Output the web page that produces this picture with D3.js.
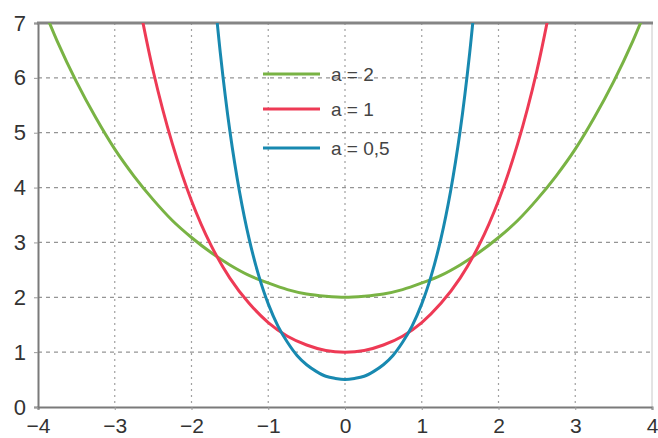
<!DOCTYPE html>
<html>
<head>
<meta charset="utf-8">
<script src="https://cdn.jsdelivr.net/npm/d3@7"></script>
<style>
  body { margin: 0; background: #fff; }
  svg { display: block; font-family: "Liberation Sans", Arial, sans-serif; }
</style>
</head>
<body>
<svg width="658" height="438"></svg>
<script>
// valeurs
const xTicks = [-4, -3, -2, -1, 0, 1, 2, 3, 4];
const yTicks = [0, 1, 2, 3, 4, 5, 6, 7];
const xTickLabels = ["−4", "−3", "−2", "−1", "0", "1", "2", "3", "4"];

const xA2 = [-4, -3.75, -3.5, -3.25, -3, -2.75, -2.5, -2.25, -2, -1.75, -1.5, -1.25, -1, -0.75, -0.5, -0.25, 0,
             0.25, 0.5, 0.75, 1, 1.25, 1.5, 1.75, 2, 2.25, 2.5, 2.75, 3, 3.25, 3.5, 3.75, 4];
const yA2 = [7.52, 6.67, 5.93, 5.28, 4.70, 4.21, 3.78, 3.40, 3.09, 2.82, 2.59, 2.40, 2.26, 2.14, 2.06, 2.02, 2.00,
             2.02, 2.06, 2.14, 2.26, 2.40, 2.59, 2.82, 3.09, 3.40, 3.78, 4.21, 4.70, 5.28, 5.93, 6.67, 7.52];

const xA1 = [-2.75, -2.5, -2.25, -2, -1.75, -1.5, -1.25, -1, -0.75, -0.5, -0.25, 0,
             0.25, 0.5, 0.75, 1, 1.25, 1.5, 1.75, 2, 2.25, 2.5, 2.75];
const yA1 = [7.85, 6.13, 4.80, 3.76, 2.96, 2.35, 1.89, 1.54, 1.29, 1.13, 1.03, 1.00,
             1.03, 1.13, 1.29, 1.54, 1.89, 2.35, 2.96, 3.76, 4.80, 6.13, 7.85];

const xA05 = [-1.75, -1.625, -1.5, -1.375, -1.25, -1.125, -1, -0.875, -0.75, -0.625, -0.5, -0.375, -0.25, -0.125, 0,
              0.125, 0.25, 0.375, 0.5, 0.625, 0.75, 0.875, 1, 1.125, 1.25, 1.375, 1.5, 1.625, 1.75];
const yA05 = [8.29, 6.46, 5.03, 3.93, 3.07, 2.40, 1.88, 1.48, 1.18, 0.94, 0.77, 0.65, 0.56, 0.52, 0.50,
              0.52, 0.56, 0.65, 0.77, 0.94, 1.18, 1.48, 1.88, 2.40, 3.07, 3.93, 5.03, 6.46, 8.29];

const seriesNames = ["a = 2", "a = 1", "a = 0,5"];
const seriesColors = ["#79b344", "#ee3a55", "#1889b0"];

const series = [
    { name: seriesNames[0], color: seriesColors[0], pts: xA2.map((x, i) => [x, yA2[i]]) },
    { name: seriesNames[1], color: seriesColors[1], pts: xA1.map((x, i) => [x, yA1[i]]) },
    { name: seriesNames[2], color: seriesColors[2], pts: xA05.map((x, i) => [x, yA05[i]]) }
];

const svg = d3.select("svg");
const mLeft = 38, mRight = 652, mTop = 23, mBottom = 407;

const x = d3.scaleLinear().domain([-4, 4]).range([mLeft, mRight]);
const y = d3.scaleLinear().domain([0, 7]).range([mBottom, mTop]);

// grille
svg.append("g")
    .selectAll("line")
    .data(xTicks.slice(1, -1))
    .join("line")
    .attr("x1", d => x(d)).attr("x2", d => x(d))
    .attr("y1", mTop).attr("y2", mBottom)
    .attr("stroke", "#a0a0a0")
    .attr("stroke-width", 1.2)
    .attr("stroke-dasharray", "2,4");

svg.append("g")
    .selectAll("line")
    .data(yTicks.slice(1, -1))
    .join("line")
    .attr("x1", mLeft).attr("x2", mRight)
    .attr("y1", d => y(d)).attr("y2", d => y(d))
    .attr("stroke", "#959595")
    .attr("stroke-width", 1.2)
    .attr("stroke-dasharray", "4,4");

// cadre droit
svg.append("line")
    .attr("x1", mRight).attr("x2", mRight)
    .attr("y1", mTop).attr("y2", mBottom)
    .attr("stroke", "#c8c8c8");

// axes
const xAxis = svg.append("g")
    .attr("transform", `translate(0,${mBottom})`)
    .call(d3.axisBottom(x).tickValues(xTicks).tickSize(3).tickFormat((d, i) => xTickLabels[i]));
xAxis.select(".domain").attr("stroke", "#7a7a7a").attr("stroke-width", 2);
xAxis.selectAll(".tick line").attr("stroke", "#999");
xAxis.selectAll("text")
    .attr("font-size", 21)
    .attr("fill", "#333")
    .attr("font-family", "Liberation Sans, Arial, sans-serif")
    .attr("y", 11)
    .attr("dy", "0.71em");

const yAxis = svg.append("g")
    .attr("transform", `translate(${mLeft},0)`)
    .call(d3.axisLeft(y).tickValues(yTicks).tickSize(4).tickFormat(d3.format("d")));
yAxis.select(".domain").attr("stroke", "#7a7a7a").attr("stroke-width", 2);
yAxis.selectAll(".tick line").attr("stroke", "#999");
yAxis.selectAll("text")
    .attr("font-size", 22)
    .attr("fill", "#333")
    .attr("font-family", "Liberation Sans, Arial, sans-serif")
    .attr("x", -12);

// bordure haute épaisse
svg.append("line")
    .attr("x1", mLeft - 1).attr("x2", mRight + 1)
    .attr("y1", mTop).attr("y2", mTop)
    .attr("stroke", "#858585")
    .attr("stroke-width", 3);

// courbes
svg.append("clipPath").attr("id", "clip")
    .append("rect")
    .attr("x", mLeft).attr("y", mTop)
    .attr("width", mRight - mLeft).attr("height", mBottom - mTop);

const line = d3.line()
    .x(d => x(d[0]))
    .y(d => y(d[1]))
    .curve(d3.curveCatmullRom);

svg.append("g")
    .attr("clip-path", "url(#clip)")
    .selectAll("path")
    .data(series)
    .join("path")
    .attr("d", d => line(d.pts))
    .attr("fill", "none")
    .attr("stroke", d => d.color)
    .attr("stroke-width", 3);

// légende
const legendY = [74, 109, 148];
const legend = svg.append("g")
    .selectAll("g")
    .data(series)
    .join("g")
    .attr("transform", (d, i) => `translate(263,${legendY[i]})`);

legend.append("line")
    .attr("x1", 0).attr("x2", 57)
    .attr("stroke", d => d.color)
    .attr("stroke-width", 3);

legend.append("text")
    .attr("x", 68)
    .attr("dy", "0.35em")
    .attr("font-size", 19)
    .attr("fill", "#444")
    .text(d => d.name);
</script>
</body>
</html>
